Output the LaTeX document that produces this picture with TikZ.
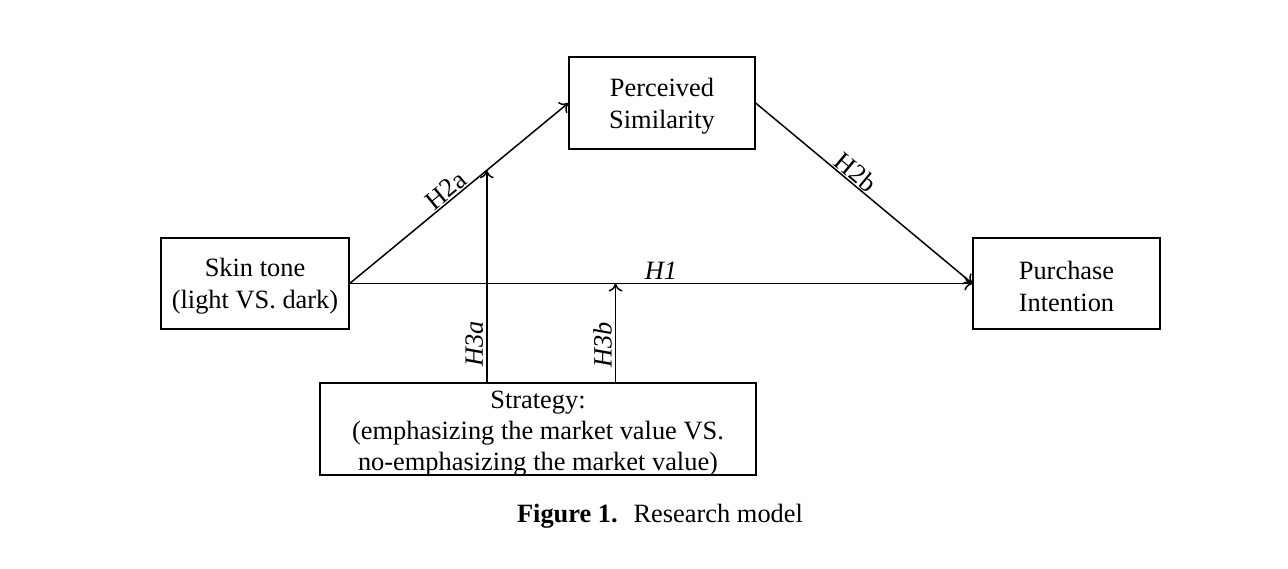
\documentclass[tikz,border=0pt]{standalone}
\usepackage{fontspec}
\setmainfont{Liberation Serif}
\usetikzlibrary{arrows.meta,calc}

\begin{document}
\begin{tikzpicture}[x=0.5pt,y=-0.5pt,
    box/.style={draw, line width=0.65pt, align=center, inner sep=0pt,
        font=\fontsize{13.2}{16}\selectfont},
    boxtext/.style={align=center, inner sep=0pt,
        font=\fontsize{13.2}{15.5}\selectfont},
    link/.style={line width=0.75pt, -{To[length=4pt,width=7pt]}},
    hyp/.style={font=\fontsize{13.2}{16}\selectfont\itshape, inner sep=1.5pt},
    hypup/.style={font=\fontsize{13.2}{16}\selectfont, inner sep=0.5pt}]
    \useasboundingbox (0,0) rectangle (1288,568);

    % variables
    \node[box, minimum width=94pt, minimum height=45.5pt] (skin) at (255,283.5)
        {\rule{0pt}{12pt}Skin tone\\(light VS. dark)};
    \node[box, minimum width=93pt, minimum height=46pt] (sim) at (662,103)
        {\rule{0pt}{12pt}Perceived\\Similarity};
    \node[box, minimum width=93.5pt, minimum height=45.5pt] (purch) at (1066.5,283.5)
        {\rule{0pt}{12pt}Purchase\\Intention};
    \node[box, minimum width=218pt, minimum height=46pt] (strat) at (538,429) {};
    \node[boxtext] (strattext) at ($(strat)+(0,5)$)
        {Strategy:\\(emphasizing the market value VS.\\no-emphasizing the market value)};

    % points where the moderators meet the paths
    \coordinate (m2a) at ($(skin.east)!0.627!(sim.west)$);
    \coordinate (m1) at ($(skin.east)!0.427!(purch.west)$);

    % main paths
    \draw[link] (skin.east) -- node[hyp, above] {H1} (purch.west);
    \draw[link] (skin.east) -- node[hypup, sloped, above, pos=0.47] {H2a} (sim.west);
    \draw[link] (sim.east) -- node[hypup, sloped, above, pos=0.43] {H2b} (purch.west);

    % moderation
    \draw[link] (strat.north -| m2a) -- node[hyp, sloped, above, pos=0.18] {H3a} (m2a);
    \draw[link] (strat.north -| m1) -- node[hyp, sloped, above, pos=0.38] {H3b} (m1);

    % caption
    \node[font=\fontsize{13.2}{16}\selectfont] (cap) at (660,516)
        {\textbf{Figure 1.}\hspace{0.6em}Research model};
\end{tikzpicture}
\end{document}
